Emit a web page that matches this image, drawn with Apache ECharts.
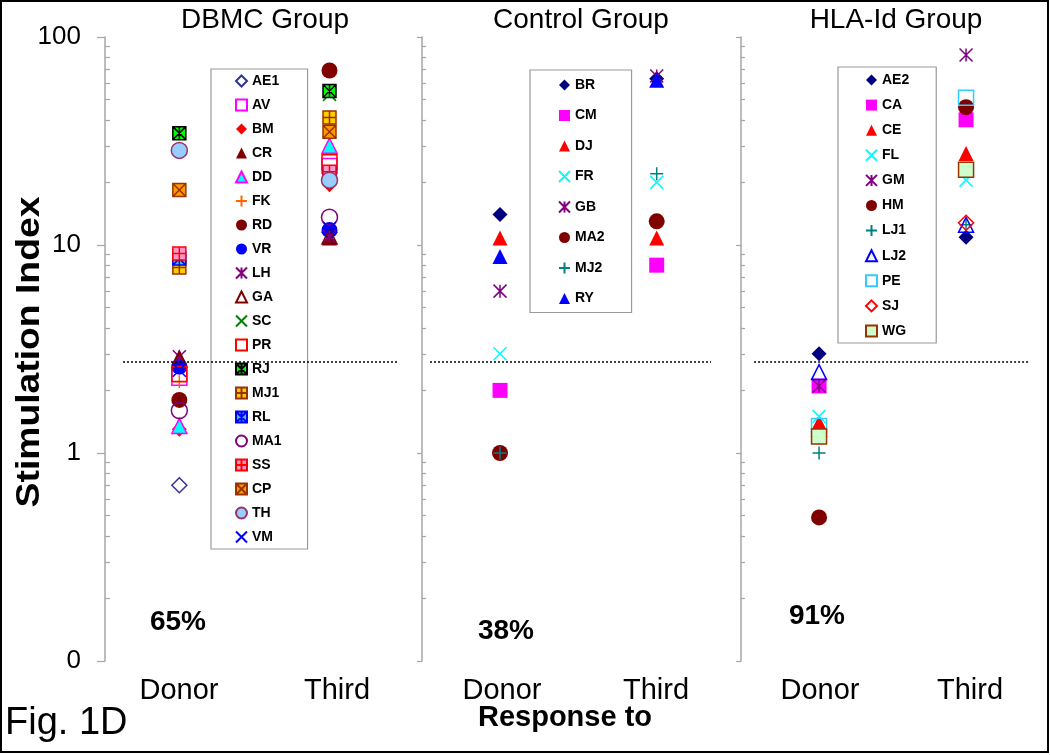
<!DOCTYPE html>
<html>
<head>
<meta charset="utf-8">
<script src="https://cdn.jsdelivr.net/npm/echarts@6/dist/echarts.min.js"></script>
<style>
html,body{margin:0;padding:0;background:#fff;}
#chart{width:1050px;height:755px;}
</style>
</head>
<body>
<div id="chart"></div>
<script>
// ---------------- DATA ----------------
const categories = ['Donor', 'Third'];
const panelTitles = ['DBMC Group', 'Control Group', 'HLA-Id Group'];
const pctLabels = ['65%', '38%', '91%'];
const yAxisTitle = 'Stimulation Index';
const xAxisTitle = 'Response to';
const figLabel = 'Fig. 1D';
const yTickValues = [0.1, 1, 10, 100];
const yTickLabels = ['0', '1', '10', '100'];
const yMinorTicks = [0.2, 0.3, 0.4, 0.5, 0.6, 0.7, 0.8, 0.9, 2, 3, 4, 5, 6, 7, 8, 9, 20, 30, 40, 50, 60, 70, 80, 90];
const threshold = 2.75;

const dbmcNames  = ['AE1','AV','BM','CR','DD','FK','RD','VR','LH','GA','SC','PR','RJ','MJ1','RL','MA1','SS','CP','TH','VM'];
const dbmcDonor  = [0.7, 2.3, 1.3, 2.9, 1.35, 2.2, 1.8, 2.6, 2.9, 2.8, 34.5, 2.4, 34.5, 7.8, 8.6, 1.6, 9.1, 18.4, 28.5, 2.5];
const dbmcThird  = [11.5, 24, 19.5, 10.8, 30, 40, 69, 11.8, 11, 11, 53, 25, 55, 41, 22, 13.6, 22.5, 35, 20.5, 12];

const ctrlNames  = ['BR','CM','DJ','FR','GB','MA2','MJ2','RY'];
const ctrlDonor  = [14, 2.0, 10.8, 3.0, 6.0, 1.0, 1.0, 8.8];
const ctrlThird  = [63, 8.0, 10.8, 20, 65, 13, 22, 62];

const hlaNames   = ['AE2','CA','CE','FL','GM','HM','LJ1','LJ2','PE','SJ','WG'];
const hlaDonor   = [3.0, 2.1, 1.4, 1.5, 2.1, 0.49, 1.0, 2.45, 1.35, 1.2, 1.2];
const hlaThird   = [10.9, 40, 27.5, 20.5, 82, 46, 12.5, 12.5, 51, 12.8, 23];

// ---------------- STYLES ----------------
const X = 'path://M0,0L10,10M10,0L0,10';
const STAR = 'path://M0,0L10,10M10,0L0,10M5,0L5,10';
const PLUS = 'path://M5,0L5,10M0,5L10,5';
const SQX = 'path://M0,0L10,0L10,10L0,10ZM0,0L10,10M10,0L0,10';
const SQSTAR = 'path://M0,0L10,0L10,10L0,10ZM0,0L10,10M10,0L0,10M5,0L5,10';
const SQPLUS = 'path://M0,0L10,0L10,10L0,10ZM5,0L5,10M0,5L10,5';
const T = 'rgba(0,0,0,0)';
const markerStyles = {
  AE1:{s:'diamond',f:T,b:'#333399'}, AV:{s:'rect',f:T,b:'#FF00FF'}, BM:{s:'diamond',f:'#FF0000'},
  CR:{s:'triangle',f:'#800000'}, DD:{s:'triangle',f:'#00FFFF',b:'#FF00FF'}, FK:{s:PLUS,f:T,b:'#FF6600'},
  RD:{s:'circle',f:'#800000'}, VR:{s:'circle',f:'#0000FF'}, LH:{s:STAR,f:T,b:'#800080'},
  GA:{s:'triangle',f:T,b:'#800000'}, SC:{s:X,f:T,b:'#008000'}, PR:{s:'rect',f:T,b:'#FF0000'},
  RJ:{s:SQSTAR,f:'#00FF00',b:'#000000'}, MJ1:{s:SQPLUS,f:'#FFCC00',b:'#993300'},
  RL:{s:SQSTAR,f:'#33CCCC',b:'#0000FF'}, MA1:{s:'circle',f:T,b:'#800080'},
  SS:{s:SQPLUS,f:'#FF99CC',b:'#FF0000'}, CP:{s:SQX,f:'#FF9900',b:'#993300'},
  TH:{s:'circle',f:'#99CCFF',b:'#993366'}, VM:{s:X,f:T,b:'#0000FF'},
  BR:{s:'diamond',f:'#000080'}, CM:{s:'rect',f:'#FF00FF'}, DJ:{s:'triangle',f:'#FF0000'},
  FR:{s:X,f:T,b:'#00FFFF'}, GB:{s:STAR,f:T,b:'#800080'}, MA2:{s:'circle',f:'#800000'},
  MJ2:{s:PLUS,f:T,b:'#008080'}, RY:{s:'triangle',f:'#0000FF'},
  AE2:{s:'diamond',f:'#000080'}, CA:{s:'rect',f:'#FF00FF'}, CE:{s:'triangle',f:'#FF0000'},
  FL:{s:X,f:T,b:'#00FFFF'}, GM:{s:STAR,f:T,b:'#800080'}, HM:{s:'circle',f:'#800000'},
  LJ1:{s:PLUS,f:T,b:'#008080'}, LJ2:{s:'triangle',f:T,b:'#0000FF'}, PE:{s:'rect',f:T,b:'#33CCFF'},
  SJ:{s:'diamond',f:T,b:'#FF0000'}, WG:{s:'rect',f:'#CCFFCC',b:'#993300'}
};

// ---------------- LAYOUT ----------------
const FONT = '"Liberation Sans", Arial, sans-serif';
const grids = [
  {left:105, top:37, width:317, height:624},
  {left:422, top:37, width:319, height:624},
  {left:741, top:37, width:299, height:624},
  // grids carrying only the category labels under each panel
  {left:100, top:37, width:316, height:624},
  {left:425, top:37, width:308, height:624},
  {left:745, top:37, width:300, height:624}
];
const valueX = [ {min:-0.495, max:1.616}, {min:-0.498, max:1.538}, {min:-0.531, max:1.503} ];
const threshSpan = [ [-0.375, 1.456], [-0.447, 1.347], [-0.442, 1.435] ];
const legendLayout = [
  {left:211, top:69, itemGap:10, padding:[5,26,5,24]},
  {left:530, top:70, itemGap:16.5, padding:[8,27,7,28]},
  {left:838, top:67, itemGap:11.1, padding:[6,27,5,27]}
];
const titlePos = [[265,20],[581,20],[896,20]];
const pctPos = [[178,622],[506,631],[817,616]];

const panels = [
  {names:dbmcNames, donor:dbmcDonor, third:dbmcThird},
  {names:ctrlNames, donor:ctrlDonor, third:ctrlThird},
  {names:hlaNames, donor:hlaDonor, third:hlaThird}
];

const xAxes = [], yAxes = [], series = [], legends = [];
panels.forEach(function(p, i){
  xAxes.push({type:'value', gridIndex:i, position:'bottom', min:valueX[i].min, max:valueX[i].max, show:false,
    axisLine:{onZero:false}});
});
panels.forEach(function(p, i){
  xAxes.push({type:'category', gridIndex:i + 3, position:'bottom', data:categories, boundaryGap:true,
    axisLine:{show:false, onZero:false}, axisTick:{show:false}, splitLine:{show:false},
    axisLabel:{show:true, margin:15, fontSize:29, color:'#000', fontFamily:FONT}});
});
panels.forEach(function(p, i){
  yAxes.push({type:'log', logBase:10, gridIndex:i, position:'left', min:0.1, max:100,
    axisLine:{show:true, onZero:false, lineStyle:{color:'#A6A6A6', width:1.5}},
    axisTick:{show:true, length: i === 0 ? 8 : 5, lineStyle:{color:'#A6A6A6', width:1.2},
      customValues: yTickValues},
    axisLabel:{show: i === 0, margin:24, fontSize:26, color:'#000', fontFamily:FONT,
      customValues: yTickValues,
      formatter:function(v){ var k = yTickValues.findIndex(function(t){return Math.abs(t - v) < 1e-6 * t;}); return k >= 0 ? yTickLabels[k] : ''; }},
    splitLine:{show:false}});
});
panels.forEach(function(p, i){
  yAxes.push({type:'log', logBase:10, gridIndex:i, position:'left', offset:0, min:0.1, max:100,
    axisLine:{show:false, onZero:false},
    axisTick:{show:true, inside:true, length: i === 0 ? 5 : 4, lineStyle:{color:'#A6A6A6', width:1.2},
      customValues: yMinorTicks},
    axisLabel:{show:false}, splitLine:{show:false}});
});
panels.forEach(function(p, i){
  yAxes.push({type:'log', gridIndex:i + 3, min:0.1, max:100, show:false});
});

panels.forEach(function(p, i){
  p.names.forEach(function(name, k){
    const st = markerStyles[name];
    const s = {
      type:'scatter', name:name, xAxisIndex:i, yAxisIndex:i,
      symbol: st.s, symbolSize: st.s.indexOf('path://') === 0 ? 13 : (st.s === 'circle' ? 16 : 15),
      itemStyle:{color: st.f, borderColor: st.b || st.f, borderWidth: st.b ? 1.5 : 0, opacity:1},
      emphasis:{disabled:true},
      data: [[categories.indexOf('Donor'), p.donor[k]], [categories.indexOf('Third'), p.third[k]]]
    };
    if (k === 0) {
      s.markLine = {silent:true, symbol:['none','none'], label:{show:false},
        lineStyle:{color:'#000', type:[2,2], width:1.5},
        data:[[{coord:[threshSpan[i][0], threshold]}, {coord:[threshSpan[i][1], threshold]}]]};
    }
    series.push(s);
  });
  legends.push({
    orient:'vertical', left:legendLayout[i].left, top:legendLayout[i].top,
    itemGap:legendLayout[i].itemGap, padding:legendLayout[i].padding,
    itemWidth:11, itemHeight:11, selectedMode:false,
    borderColor:'#999', borderWidth:1.2, backgroundColor:'#fff',
    data:p.names,
    textStyle:{fontSize:14, fontWeight:'bold', color:'#000', fontFamily:FONT}
  });
});

const graphics = [
  {type:'rect', silent:true, shape:{x:1, y:1, width:1047, height:751}, style:{fill:'none', stroke:'#000', lineWidth:2}},
  {type:'text', x:30, y:352, rotation:Math.PI/2, scaleX:1.13, silent:true,
    style:{text:yAxisTitle, font:'bold 33px ' + FONT, fill:'#000', textAlign:'center', textVerticalAlign:'middle'}},
  {type:'text', x:565, y:718, silent:true, style:{text:xAxisTitle, font:'bold 29px ' + FONT, fill:'#000', textAlign:'center', textVerticalAlign:'middle'}},
  {type:'text', x:5, y:724, silent:true, style:{text:figLabel, font:'38px ' + FONT, fill:'#000', textAlign:'left', textVerticalAlign:'middle'}}
];
panelTitles.forEach(function(t, i){
  graphics.push({type:'text', x:titlePos[i][0], y:titlePos[i][1], silent:true,
    style:{text:t, font:'28px ' + FONT, fill:'#000', textAlign:'center', textVerticalAlign:'middle'}});
});
pctLabels.forEach(function(t, i){
  graphics.push({type:'text', x:pctPos[i][0], y:pctPos[i][1], silent:true,
    style:{text:t, font:'bold 28px ' + FONT, fill:'#000', textAlign:'center', textVerticalAlign:'middle'}});
});

const chart = echarts.init(document.getElementById('chart'), null, {renderer:'canvas'});
chart.setOption({
  animation:false,
  backgroundColor:'#fff',
  grid: grids,
  xAxis: xAxes,
  yAxis: yAxes,
  legend: legends,
  series: series,
  graphic: graphics
});
</script>
</body>
</html>
